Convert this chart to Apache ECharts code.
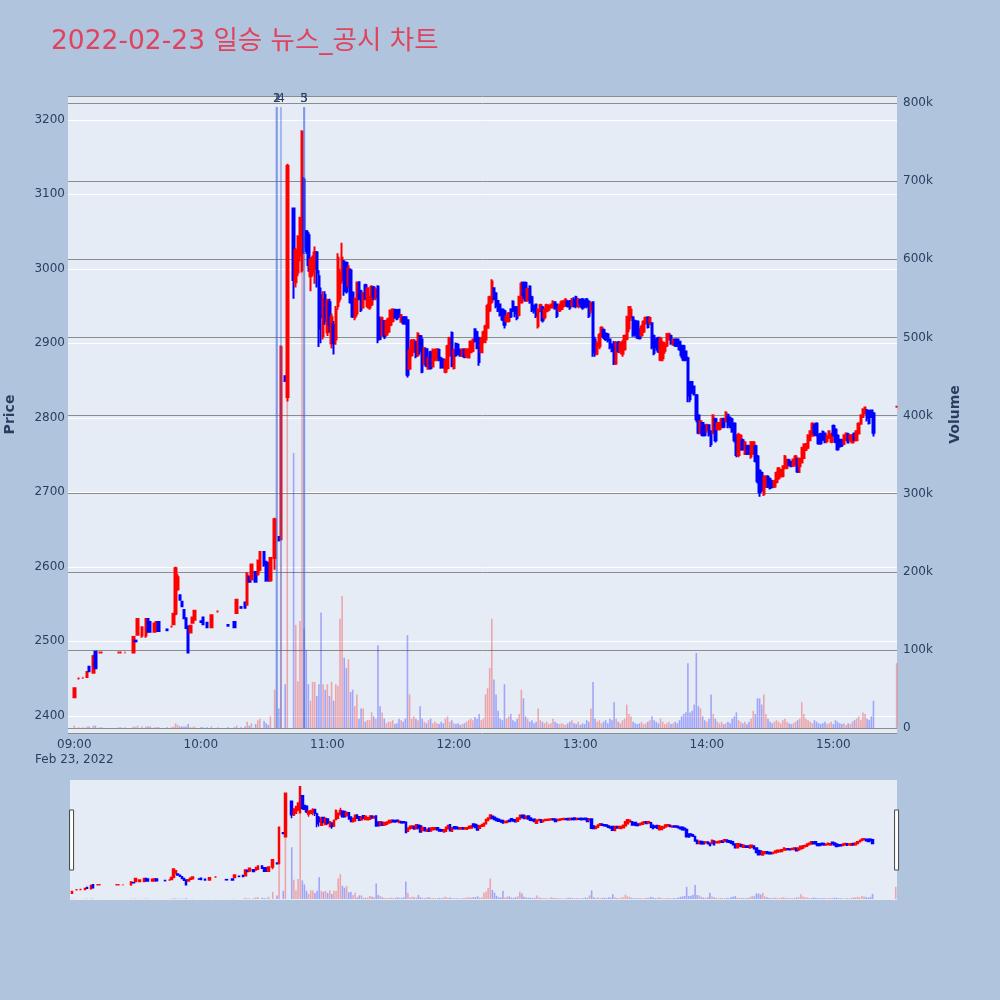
<!DOCTYPE html>
<html><head><meta charset="utf-8">
<script src="https://cdn.jsdelivr.net/npm/echarts@6/dist/echarts.min.js"></script>
<style>html,body{margin:0;padding:0;background:#b0c4de;}#c{width:1000px;height:1000px;}</style>
</head><body><div id="c"></div>
<script>
// ---- data (1-minute candles, 2022-02-23) ----
const times = [
'09:00','09:02','09:04','09:06','09:07','09:09','09:10','09:12','09:13','09:21','09:22','09:24','09:28','09:29','09:30','09:32','09:34','09:35','09:36','09:38','09:39','09:40','09:44','09:46','09:47','09:48','09:49','09:50','09:51','09:52','09:53','09:54','09:55','09:56','09:57',
'10:00','10:01','10:03','10:05','10:08','10:13','10:16','10:17','10:19','10:21','10:22','10:23','10:24','10:26','10:27','10:28','10:30','10:31','10:32','10:33','10:35','10:37','10:38','10:40','10:41','10:44','10:45','10:46','10:47','10:48','10:49','10:50','10:51','10:52','10:53','10:54','10:55','10:56','10:57','10:58','10:59',
'11:00','11:01','11:02','11:03','11:04','11:05','11:06','11:07','11:08','11:09','11:10','11:11','11:12','11:13','11:14','11:15','11:16','11:17','11:18','11:19','11:20','11:21','11:22','11:23','11:24','11:25','11:26','11:27','11:28','11:29','11:30','11:31','11:32','11:33','11:34','11:35','11:36','11:37','11:38','11:39','11:40','11:41','11:42','11:43','11:44','11:45','11:46','11:47','11:48','11:49','11:50','11:51','11:52','11:53','11:54','11:55','11:56','11:57','11:58','11:59',
'12:00','12:01','12:02','12:03','12:04','12:05','12:06','12:07','12:08','12:09','12:10','12:11','12:12','12:13','12:14','12:15','12:16','12:17','12:18','12:19','12:20','12:21','12:22','12:23','12:24','12:25','12:26','12:27','12:28','12:29','12:30','12:31','12:32','12:33','12:34','12:35','12:36','12:37','12:38','12:39','12:40','12:41','12:42','12:43','12:44','12:45','12:46','12:47','12:48','12:49','12:50','12:51','12:52','12:53','12:54','12:55','12:56','12:57','12:58','12:59',
'13:00','13:01','13:02','13:03','13:04','13:05','13:06','13:07','13:08','13:09','13:10','13:11','13:12','13:13','13:14','13:15','13:16','13:17','13:18','13:19','13:20','13:21','13:22','13:23','13:24','13:25','13:26','13:27','13:28','13:29','13:30','13:31','13:32','13:33','13:34','13:35','13:36','13:37','13:38','13:39','13:40','13:41','13:42','13:43','13:44','13:45','13:46','13:47','13:48','13:49','13:50','13:51','13:52','13:53','13:54','13:55','13:56','13:57','13:58','13:59',
'14:00','14:01','14:02','14:03','14:04','14:05','14:06','14:07','14:08','14:09','14:10','14:11','14:12','14:13','14:14','14:15','14:16','14:17','14:18','14:19','14:20','14:21','14:22','14:23','14:24','14:25','14:26','14:27','14:28','14:29','14:30','14:31','14:32','14:33','14:34','14:35','14:36','14:37','14:38','14:39','14:40','14:41','14:42','14:43','14:44','14:45','14:46','14:47','14:48','14:49','14:50','14:51','14:52','14:53','14:54','14:55','14:56','14:57','14:58','14:59',
'15:00','15:01','15:02','15:03','15:04','15:05','15:06','15:07','15:08','15:09','15:10','15:11','15:12','15:13','15:14','15:15','15:16','15:17','15:18','15:19','15:30'];

const opens = [
2425,2450,2451,2452,2466,2458,2486,2485,2485,2485,2485,2485,2485,2501,2509,2508,2508,2530,2526,2513,2514,2526,2516,2520,2523,2537,2570,2562,2553,2542,2531,2520,2512,2525,2529,
2527,2532,2525,2519,2540,2522,2526,2538,2546,2552,2549,2587,2583,2593,2590,2596,2620,2607,2605,2582,2612,2640,2637,2856,2828,3081,2982,2995,3018,2998,3120,3050,3045,2990,2995,3000,3022,2990,2965,2910,2965,
2915,2955,2900,2925,2905,2950,2960,2985,3010,3008,2978,2998,2968,2935,2940,2982,2970,2948,2978,2950,2948,2952,2975,2962,2976,2932,2912,2930,2912,2916,2925,2930,2945,2944,2945,2929,2935,2935,2931,2866,2884,2889,2902,2884,2910,2905,2872,2892,2866,2888,2869,2878,2880,2891,2880,2878,2862,2867,2884,2914,
2867,2899,2898,2890,2883,2891,2883,2881,2888,2890,2919,2915,2907,2888,2902,2905,2921,2944,2956,2974,2967,2957,2952,2945,2943,2930,2930,2945,2956,2948,2948,2938,2955,2981,2981,2958,2976,2962,2950,2952,2923,2943,2948,2935,2943,2945,2948,2948,2955,2952,2944,2946,2950,2951,2956,2957,2950,2958,2962,2950,
2958,2959,2957,2959,2956,2945,2955,2905,2886,2896,2910,2918,2913,2912,2905,2898,2900,2873,2901,2889,2886,2892,2906,2920,2935,2935,2930,2929,2918,2911,2916,2928,2935,2926,2927,2910,2905,2907,2878,2880,2890,2897,2905,2910,2898,2905,2905,2902,2896,2896,2889,2880,2848,2848,2842,2830,2803,2780,2793,2790,
2785,2790,2782,2780,2798,2785,2785,2788,2798,2795,2804,2800,2798,2792,2776,2750,2760,2770,2752,2762,2762,2748,2752,2762,2748,2729,2726,2698,2708,2721,2718,2715,2708,2714,2719,2722,2722,2733,2733,2743,2741,2736,2738,2745,2735,2740,2746,2757,2760,2770,2776,2790,2792,2777,2778,2781,2779,2769,2773,2768,
2789,2784,2776,2770,2770,2765,2770,2778,2770,2767,2779,2770,2779,2792,2801,2806,2810,2809,2810,2806,2815];

const closes = [
2437,2450,2451,2459,2460,2480,2464,2485,2485,2485,2485,2485,2506,2500,2530,2519,2530,2513,2513,2524,2526,2514,2515,2520,2537,2598,2586,2556,2547,2531,2518,2485,2521,2532,2541,
2526,2523,2519,2535,2540,2521,2519,2556,2545,2545,2590,2580,2603,2580,2608,2620,2603,2582,2582,2612,2664,2636,2895,2850,3138,2985,3025,3043,3068,3184,3030,3024,3005,3012,3015,3022,2995,2920,2935,2960,2930,
2958,2925,2935,2900,2945,3015,2995,3015,2970,2970,3000,2955,2936,2960,2980,2960,2945,2967,2960,2974,2963,2976,2962,2972,2905,2906,2934,2910,2930,2933,2944,2945,2935,2933,2936,2938,2927,2928,2858,2890,2903,2904,2883,2913,2890,2862,2893,2870,2880,2867,2890,2891,2892,2878,2868,2868,2877,2896,2907,2870,
2891,2884,2886,2884,2892,2882,2892,2891,2902,2905,2903,2894,2875,2906,2915,2923,2950,2962,2983,2960,2950,2944,2938,2932,2925,2936,2940,2936,2944,2940,2934,2962,2980,2965,2958,2973,2955,2945,2944,2937,2945,2951,2931,2945,2951,2950,2952,2955,2948,2937,2950,2955,2956,2958,2950,2948,2958,2950,2950,2958,
2952,2948,2950,2950,2937,2953,2888,2886,2900,2911,2921,2909,2906,2904,2895,2890,2874,2900,2890,2900,2901,2910,2935,2948,2945,2912,2912,2908,2907,2922,2929,2934,2922,2934,2895,2887,2895,2889,2906,2900,2898,2912,2913,2900,2905,2897,2897,2892,2884,2878,2878,2830,2825,2834,2832,2798,2780,2795,2777,2777,
2790,2778,2765,2803,2770,2792,2793,2798,2788,2807,2790,2788,2782,2770,2750,2777,2776,2758,2767,2752,2752,2767,2767,2742,2715,2700,2703,2721,2721,2708,2706,2707,2715,2726,2732,2730,2735,2748,2743,2737,2735,2744,2748,2728,2745,2760,2764,2765,2776,2782,2792,2780,2777,2766,2766,2771,2768,2775,2782,2778,
2777,2768,2758,2762,2763,2776,2779,2767,2776,2777,2770,2782,2792,2803,2811,2814,2800,2793,2801,2780,2815];

const lows = [
2424,2450,2450,2452,2459,2457,2464,2485,2485,2485,2485,2485,2485,2500,2509,2505,2505,2512,2512,2512,2513,2513,2515,2520,2523,2535,2568,2555,2546,2530,2517,2485,2511,2524,2528,
2526,2523,2519,2519,2540,2521,2519,2538,2545,2545,2548,2579,2582,2579,2588,2594,2600,2580,2580,2580,2596,2634,2636,2848,2822,2960,2975,2990,3010,2995,3020,3020,2996,2970,2990,2980,2975,2895,2900,2905,2925,
2910,2915,2893,2885,2898,2945,2955,2980,2964,2967,2975,2953,2934,2931,2936,2958,2942,2947,2958,2947,2945,2950,2958,2958,2900,2904,2909,2906,2910,2914,2923,2928,2933,2931,2934,2928,2925,2925,2854,2865,2882,2887,2880,2882,2885,2860,2871,2868,2865,2865,2868,2876,2876,2876,2866,2866,2860,2865,2882,2868,
2865,2882,2884,2882,2882,2880,2882,2880,2887,2888,2901,2892,2870,2887,2900,2900,2920,2942,2953,2958,2947,2942,2936,2930,2920,2928,2928,2934,2942,2935,2931,2936,2953,2960,2956,2956,2953,2942,2940,2934,2920,2942,2928,2932,2942,2943,2947,2947,2945,2934,2942,2945,2948,2950,2948,2945,2950,2948,2947,2947,
2948,2945,2947,2947,2934,2940,2882,2882,2884,2892,2909,2906,2903,2901,2892,2888,2871,2871,2887,2886,2882,2890,2904,2915,2930,2909,2909,2906,2905,2909,2914,2925,2920,2925,2892,2884,2890,2887,2876,2876,2886,2895,2904,2898,2897,2895,2895,2890,2880,2876,2876,2821,2821,2832,2830,2794,2778,2778,2775,2775,
2780,2775,2761,2778,2767,2783,2783,2786,2786,2794,2786,2786,2780,2767,2747,2747,2756,2756,2750,2750,2750,2745,2750,2740,2712,2694,2700,2695,2706,2706,2704,2706,2706,2712,2717,2720,2720,2731,2731,2735,2734,2734,2736,2726,2726,2739,2745,2756,2758,2769,2775,2776,2775,2764,2764,2769,2766,2766,2772,2766,
2775,2766,2756,2760,2761,2764,2769,2766,2768,2766,2769,2769,2778,2791,2800,2805,2795,2791,2800,2775,2815];

const highs = [
2437,2451,2451,2460,2466,2482,2487,2485,2485,2485,2485,2485,2506,2501,2531,2520,2531,2531,2527,2525,2527,2527,2516,2520,2537,2600,2590,2563,2554,2543,2532,2521,2522,2533,2542,
2527,2533,2526,2536,2540,2522,2527,2557,2546,2553,2593,2588,2604,2594,2610,2621,2621,2608,2607,2613,2666,2641,2897,2857,3141,3082,3028,3045,3070,3186,3123,3052,3049,3015,3018,3030,3024,2998,2975,2970,2970,
2960,2960,2940,2930,2950,3021,3000,3035,3012,3010,3005,3000,2970,2961,2983,2983,2972,2969,2980,2975,2964,2978,2977,2975,2978,2936,2936,2931,2932,2934,2945,2947,2946,2946,2946,2939,2936,2936,2932,2893,2906,2906,2903,2915,2911,2911,2895,2893,2882,2890,2893,2893,2893,2893,2882,2880,2879,2898,2909,2916,
2893,2901,2900,2893,2893,2893,2893,2893,2904,2906,2920,2917,2909,2909,2917,2925,2953,2964,2986,2975,2969,2958,2953,2947,2945,2938,2942,2947,2958,2950,2950,2964,2983,2983,2983,2975,2978,2964,2952,2953,2947,2953,2950,2947,2953,2952,2953,2958,2956,2953,2953,2958,2958,2961,2958,2958,2961,2962,2964,2961,
2960,2961,2958,2961,2958,2956,2956,2909,2903,2914,2923,2920,2915,2914,2906,2900,2903,2903,2903,2902,2904,2912,2937,2950,2950,2936,2932,2931,2920,2925,2931,2936,2936,2936,2928,2912,2908,2909,2909,2903,2902,2914,2914,2912,2906,2906,2906,2903,2898,2898,2890,2882,2849,2849,2843,2832,2805,2797,2794,2791,
2792,2791,2783,2805,2800,2794,2794,2800,2800,2809,2805,2802,2800,2794,2778,2780,2778,2772,2769,2764,2764,2769,2769,2764,2750,2731,2728,2723,2723,2723,2720,2717,2717,2728,2734,2731,2736,2750,2745,2745,2742,2745,2750,2746,2746,2761,2766,2766,2778,2783,2794,2792,2794,2778,2780,2783,2780,2778,2783,2780,
2791,2786,2778,2772,2772,2778,2780,2780,2778,2778,2780,2783,2794,2805,2813,2815,2812,2811,2811,2808,2815];

const volumes = [
3000,1000,1000,2000,2000,3000,3000,1000,1000,1000,1000,1000,2000,1000,3000,2000,2000,2000,2000,1000,1000,1000,1000,1000,2000,6000,4000,2000,2000,2000,2000,5000,1000,1000,2000,
1000,1000,1000,2000,1000,1000,1000,3000,1000,2000,8000,3000,6000,5000,10000,12000,9000,6000,4000,15000,49000,25000,490000,56000,600000,352000,132000,60000,137000,640000,127000,100000,56000,35000,59000,59000,41000,56000,148000,56000,49000,
56000,41000,59000,35000,56000,54000,140000,169000,90000,77000,88000,46000,49000,28000,43000,12000,25000,25000,8000,10000,10000,20000,15000,12000,106000,28000,20000,12000,6000,8000,8000,10000,5000,6000,12000,10000,8000,12000,119000,43000,12000,15000,12000,10000,28000,12000,8000,6000,10000,12000,6000,8000,6000,5000,8000,6000,12000,15000,8000,10000,
6000,5000,6000,4000,5000,6000,8000,10000,12000,10000,14000,12000,18000,10000,12000,43000,51000,77000,140000,62000,43000,22000,12000,10000,56000,12000,15000,18000,10000,8000,12000,18000,49000,38000,15000,12000,8000,10000,6000,8000,25000,10000,8000,6000,8000,5000,6000,12000,8000,6000,5000,6000,5000,4000,6000,8000,10000,6000,5000,8000,
4000,6000,5000,10000,8000,25000,59000,12000,8000,10000,6000,8000,10000,6000,12000,10000,33000,12000,8000,6000,10000,12000,30000,18000,15000,8000,6000,5000,6000,8000,5000,6000,8000,10000,15000,10000,8000,6000,12000,8000,5000,6000,8000,5000,6000,8000,6000,10000,15000,18000,20000,83000,20000,22000,30000,96000,28000,25000,15000,10000,
8000,12000,43000,18000,12000,8000,6000,8000,5000,6000,8000,6000,12000,15000,20000,10000,8000,6000,8000,5000,8000,12000,22000,18000,38000,38000,30000,43000,18000,12000,8000,6000,8000,10000,8000,6000,10000,12000,8000,6000,5000,6000,8000,10000,12000,33000,18000,12000,10000,8000,6000,10000,8000,6000,5000,6000,8000,5000,6000,8000,
5000,10000,8000,6000,5000,6000,4000,6000,5000,8000,10000,12000,15000,10000,20000,18000,12000,10000,15000,35000,83000];

// news markers (disclosures), drawn on the volume scale
const newsTimes = ['10:36','10:36','10:38','10:49','10:49'];
const newsLabels = ['1','2','4','3','5'];
const newsHeights = [795000,795000,795000,795000,795000];

// axis ranges
const priceRange = [2377, 3232];
const volumeRange = [-6400, 809000];
const timeRange = ['08:57:00', '15:30:10'];
const sliderTimeRange = ['08:59:00', '15:30:36'];
const titleText = '2022-02-23 일승 뉴스_공시 차트';
const dateLabel = 'Feb 23, 2022';

const n = times.length;
[opens, closes, lows, highs, volumes].forEach((a, k) => { if (a.length !== n) throw new Error('length mismatch ' + k + ': ' + a.length + ' vs ' + n); });

function ts(t) { const p = t.split(':').map(Number); return new Date(2022, 1, 23, p[0], p[1], p[2] || 0).getTime(); }

const UP = '#ff0000', DOWN = '#0000ff';
const VOL_UP = 'rgba(255,0,0,0.3)', VOL_DOWN = 'rgba(0,0,255,0.3)';
const NEWS_COLOR = 'rgba(65,105,225,0.4)';
const candleData = times.map((t, i) => [ts(t), opens[i], closes[i], lows[i], highs[i]]);
const volData = times.map((t, i) => [ts(t), volumes[i], closes[i] >= opens[i] ? 1 : -1]);
const newsData = newsTimes.map((t, i) => [ts(t), newsHeights[i], i]);

const FONT = "'DejaVu Sans', 'Noto Sans CJK KR', sans-serif";
const TXT = '#2a3f5f';
const pad = v => (v < 10 ? '0' : '') + v;

function volBar(width) {
  return function (params, api) {
    const x = api.value(0), v = api.value(1), dir = api.value(2);
    const p0 = api.coord([x, 0]), p1 = api.coord([x, v]);
    return { type: 'rect', shape: { x: p0[0] - width / 2, y: p1[1], width: width, height: p0[1] - p1[1] },
      style: { fill: dir > 0 ? VOL_UP : VOL_DOWN } };
  };
}
function newsBar(params, api) {
  const x = api.value(0), v = api.value(1), idx = api.value(2);
  const p0 = api.coord([x, 0]), p1 = api.coord([x, v]);
  return { type: 'group', children: [
    { type: 'rect', shape: { x: p0[0] - 1, y: p1[1], width: 2, height: p0[1] - p1[1] }, style: { fill: NEWS_COLOR } },
    { type: 'text', x: p1[0], y: p1[1] - 2, style: { text: newsLabels[idx], fill: TXT, font: '12px ' + FONT, align: 'center', verticalAlign: 'bottom' } }
  ] };
}

const chart = echarts.init(document.getElementById('c'), null, { renderer: 'canvas' });
chart.setOption({
  animation: false,
  backgroundColor: '#b0c4de',
  textStyle: { fontFamily: FONT },
  title: { text: titleText, left: 46, top: 24, textStyle: { color: '#e0435d', fontSize: 26.5, fontWeight: 'normal', fontFamily: FONT } },
  grid: [
    { left: 68, right: 103, top: 96, bottom: 267, show: true, backgroundColor: '#e5ecf6', borderWidth: 0, containLabel: false, outerBoundsMode: 'none' },
    { left: 70, right: 103, top: 780, height: 120, show: true, backgroundColor: '#e5ecf6', borderWidth: 0, containLabel: false, outerBoundsMode: 'none' }
  ],
  xAxis: [
    { type: 'time', gridIndex: 0, min: ts(timeRange[0]), max: ts(timeRange[1]),
      minInterval: 3600000, maxInterval: 3600000,
      axisLine: { show: false }, axisTick: { show: false }, splitLine: { show: false },
      axisLabel: { show: true, color: TXT, fontSize: 12, fontFamily: FONT, margin: 4, lineHeight: 15,
        showMinLabel: false, showMaxLabel: false, hideOverlap: false,
        formatter: function (v) {
          const d = new Date(v);
          if (d.getMinutes() !== 0 || d.getSeconds() !== 0) return '';
          const s = pad(d.getHours()) + ':00';
          return d.getHours() === 9 ? s + '\n' + dateLabel : s;
        } } },
    { type: 'time', gridIndex: 1, min: ts(sliderTimeRange[0]), max: ts(sliderTimeRange[1]), show: false, splitLine: { show: false } }
  ],
  yAxis: [
    { type: 'value', gridIndex: 0, position: 'left', min: priceRange[0], max: priceRange[1], splitNumber: 8,
      axisLine: { show: false }, axisTick: { show: false },
      splitLine: { show: true, lineStyle: { color: '#ffffff', width: 1 } },
      axisLabel: { color: TXT, fontSize: 12, fontFamily: FONT, margin: 3, showMinLabel: false, showMaxLabel: false,
        formatter: v => String(v) },
      name: 'Price', nameLocation: 'middle', nameGap: 51, nameRotate: 90,
      nameTextStyle: { color: TXT, fontSize: 14, fontWeight: 'bold', fontFamily: FONT } },
    { type: 'value', gridIndex: 0, position: 'right', min: volumeRange[0], max: volumeRange[1], splitNumber: 8,
      axisLine: { show: false }, axisTick: { show: false },
      splitLine: { show: true, lineStyle: { color: '#8c8c8c', width: 1 } },
      axisLabel: { color: TXT, fontSize: 12, fontFamily: FONT, margin: 6, showMinLabel: false, showMaxLabel: false,
        formatter: v => v === 0 ? '0' : Math.round(v / 1000) + 'k' },
      name: 'Volume', nameLocation: 'middle', nameGap: 51, nameRotate: 90,
      nameTextStyle: { color: TXT, fontSize: 14, fontWeight: 'bold', fontFamily: FONT } },
    { type: 'value', gridIndex: 1, min: priceRange[0], max: priceRange[1], show: false, splitLine: { show: false } },
    { type: 'value', gridIndex: 1, min: volumeRange[0], max: volumeRange[1], show: false, splitLine: { show: false } }
  ],
  dataZoom: [{
    type: 'slider', xAxisIndex: [0, 1], filterMode: 'none', start: 0, end: 100,
    left: 70, right: 103, top: 780, height: 120,
    backgroundColor: 'rgba(0,0,0,0)', borderColor: 'rgba(0,0,0,0)', fillerColor: 'rgba(0,0,0,0)',
    showDataShadow: false, showDetail: false, brushSelect: false, moveHandleSize: 0,
    handleIcon: 'path://M0,0 L4,0 L4,60 L0,60 Z', handleSize: '50%',
    handleStyle: { color: '#ffffff', borderColor: '#444444', borderWidth: 1 },
    emphasis: { handleStyle: { color: '#ffffff', borderColor: '#444444' } }
  }],
  series: [
    { name: 'Volume', type: 'custom', xAxisIndex: 0, yAxisIndex: 1, data: volData, renderItem: volBar(1.6),
      encode: { x: 0, y: 1 }, z: 1, silent: true },
    { name: 'Price', type: 'candlestick', xAxisIndex: 0, yAxisIndex: 0, data: candleData,
      encode: { x: 0, y: [1, 2, 3, 4] }, barWidth: 2, z: 2, silent: true,
      itemStyle: { color: UP, color0: DOWN, borderColor: UP, borderColor0: DOWN, borderWidth: 2 } },
    { name: 'News', type: 'custom', xAxisIndex: 0, yAxisIndex: 1, data: newsData, renderItem: newsBar,
      encode: { x: 0, y: 1 }, z: 3, silent: true },
    { name: 'VolumeMini', type: 'custom', xAxisIndex: 1, yAxisIndex: 3, data: volData, renderItem: volBar(1.6),
      encode: { x: 0, y: 1 }, z: 1, silent: true },
    { name: 'PriceMini', type: 'candlestick', xAxisIndex: 1, yAxisIndex: 2, data: candleData,
      encode: { x: 0, y: [1, 2, 3, 4] }, barWidth: 2, z: 2, silent: true,
      itemStyle: { color: UP, color0: DOWN, borderColor: UP, borderColor0: DOWN, borderWidth: 1.5 } }
  ]
});
</script></body></html>
